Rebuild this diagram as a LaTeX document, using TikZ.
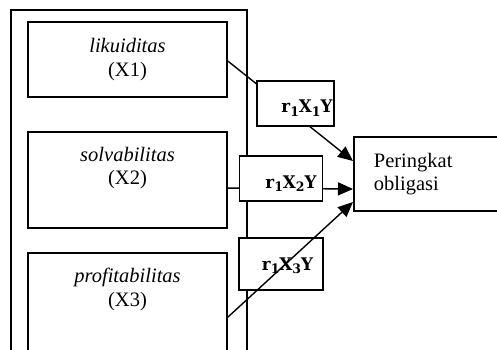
\documentclass[tikz,border=0pt]{standalone}
\usepackage{fontspec}
\setmainfont{Liberation Serif}
\newfontfamily\rfont{DejaVu Serif}[FakeStretch=0.96]
\usetikzlibrary{arrows.meta}
\newcommand{\rsub}[1]{\raisebox{-3.5pt}{\fontsize{13}{13}\selectfont #1}}
\begin{document}
\begin{tikzpicture}[x=1pt,y=-1pt,
  box/.style={draw, line width=1.8pt, inner sep=0pt, fill=white},
  lbl/.style={inner sep=0pt, font=\fontsize{20.5}{23.5}\selectfont, align=center, anchor=north},
  rbox/.style={draw, line width=1.8pt, inner sep=0pt, fill=white, font=\rfont\bfseries\fontsize{17.4}{20}\selectfont},
  conn/.style={line width=1.4pt},
  arr/.style={conn, -{Triangle[length=15pt,width=13pt]}}
]
\useasboundingbox (0,0) rectangle (497,350);
\clip (0,0) rectangle (497,350);
\fill[white] (0,0) rectangle (497,350);
\coordinate (otl) at (11,10);
\coordinate (obr) at (247,420);
\draw[line width=1.4pt] (otl) rectangle (obr);

\node[box, minimum width=199pt, minimum height=75pt] (b1) at (127.5,59.5) {};
\node[box, minimum width=199pt, minimum height=96pt] (b2) at (127.5,180) {};
\node[box, minimum width=199pt, minimum height=140pt] (b3) at (127.5,323) {};
\node[lbl] (t1) at ([yshift=-17.3pt]b1.north) {\textit{likuiditas}\\(X1)};
\node[lbl] (t2) at ([yshift=-15.7pt]b2.north) {\textit{solvabilitas}\\(X2)};
\node[lbl] (t3) at ([yshift=-16pt]b3.north) {\textit{profitabilitas}\\(X3)};

\node[box, anchor=north west, minimum height=74pt, text width=150pt, inner xsep=20pt,
      inner ysep=0pt, align=left, font=\fontsize{20.5}{23.5}\selectfont] (P) at (353,136) {Peringkat\\obligasi};

\draw[arr] ([yshift=-40pt]b1.north east) -- ([yshift=-25pt]P.north west);
\draw[arr] ([yshift=-57pt]b2.north east) -- ([yshift=-53pt]P.north west);

\node[rbox, text height=32pt, text depth=13.3pt] (r1) at (295.5,103.3)
  {\makebox[77pt][r]{r\rsub{1}X\rsub{1}Y\hspace{1.5pt}}};
\node[rbox, text height=32pt, text depth=13pt] (r2) at (281,178.5)
  {\makebox[83pt][r]{r\rsub{1}X\rsub{2}Y\hspace{6pt}}};
\node[rbox, text height=32pt, text depth=20pt] (r3) at (281,264)
  {\makebox[84pt][r]{r\rsub{1}X\rsub{3}Y\hspace{10pt}}};

\draw[arr] ([yshift=-65pt]b3.north east) -- ([yshift=-66pt]P.north west);
\end{tikzpicture}
\end{document}
